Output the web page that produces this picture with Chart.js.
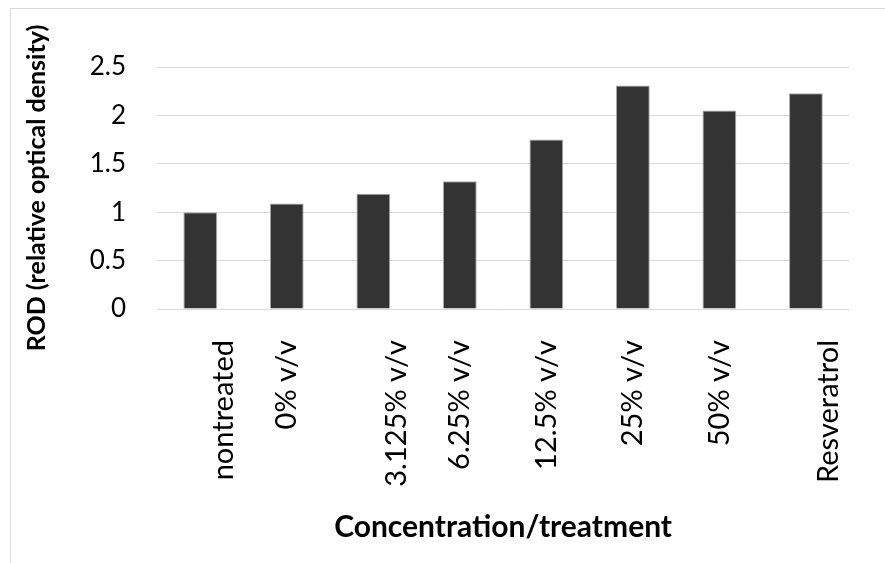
<!DOCTYPE html>
<html>
<head>
<meta charset="utf-8">
<title>ROD by concentration/treatment</title>
<script src="https://cdn.jsdelivr.net/npm/chart.js@4.4.1/dist/chart.umd.min.js"></script>
<style>
    html, body { margin: 0; padding: 0; background: #fff; overflow: hidden; }
    #frame {
        position: absolute; left: 10px; top: 8px; width: 900px; height: 600px;
        border-top: 1px solid #d9d9d9; border-left: 1px solid #d9d9d9;
    }
    #wrap { position: absolute; left: 0; top: 0; width: 885px; height: 563px; }
</style>
</head>
<body>
<div id="frame"></div>
<div id="wrap"><canvas id="rodChart"></canvas></div>
<script>
// Chart data
const categories = ['nontreated', '0% v/v', '3.125% v/v', '6.25% v/v', '12.5% v/v', '25% v/v', '50% v/v', 'Resveratrol'];
const rodValues = [1.00, 1.09, 1.19, 1.32, 1.75, 2.31, 2.05, 2.23];
const yTickValues = [0, 0.5, 1, 1.5, 2, 2.5];
const yTickLabels = ['0', '0.5', '1', '1.5', '2', '2.5'];

// Labels that sit a little to the right of their bar in the original
const shiftedLabels = [0, 2, 7];

const FONT = 'Lato, "Open Sans", sans-serif';

const ctx = document.getElementById('rodChart').getContext('2d');
new Chart(ctx, {
    type: 'bar',
    data: {
        labels: categories,
        datasets: [{
            label: 'ROD',
            data: rodValues,
            backgroundColor: '#333333',
            borderColor: '#a6a6a6',
            borderWidth: 1,
            barPercentage: 0.39,
            categoryPercentage: 1
        }]
    },
    options: {
        responsive: true,
        maintainAspectRatio: false,
        animation: false,
        layout: {
            padding: { top: 67, right: 27, bottom: 0, left: 0 }
        },
        plugins: {
            legend: { display: false },
            tooltip: { enabled: false }
        },
        scales: {
            x: {
                grid: { display: false, drawTicks: false },
                border: { display: false },
                ticks: {
                    autoSkip: false,
                    minRotation: 90,
                    maxRotation: 90,
                    padding: 31,
                    color: '#000',
                    font: { family: FONT, size: 29, lineHeight: 0.8 },
                    callback: function(value, index) {
                        const label = categories[index];
                        return shiftedLabels.includes(index) ? ['', label] : label;
                    }
                },
                title: {
                    display: true,
                    text: 'Concentration/treatment',
                    color: '#000',
                    font: { family: FONT, size: 30, weight: 'bold', lineHeight: 1.2 },
                    padding: { top: 0, bottom: 18 }
                },
                afterFit: function(scale) {
                    scale.height = 254;
                }
            },
            y: {
                min: 0,
                max: 2.5,
                grid: { color: '#d9d9d9', lineWidth: 1, drawTicks: false },
                border: { display: false },
                afterBuildTicks: function(scale) {
                    scale.ticks = yTickValues.map(v => ({ value: v }));
                },
                ticks: {
                    padding: 31,
                    color: '#000',
                    font: { family: FONT, size: 26 },
                    callback: function(value, index) {
                        return yTickLabels[index];
                    }
                },
                title: {
                    display: true,
                    text: 'ROD (relative optical density)',
                    color: '#000',
                    font: { family: FONT, size: 25, weight: 'bold', lineHeight: 1.2 },
                    padding: { top: 22, bottom: 0 }
                },
                afterFit: function(scale) {
                    scale.width = 157;
                }
            }
        }
    }
});
</script>
</body>
</html>
